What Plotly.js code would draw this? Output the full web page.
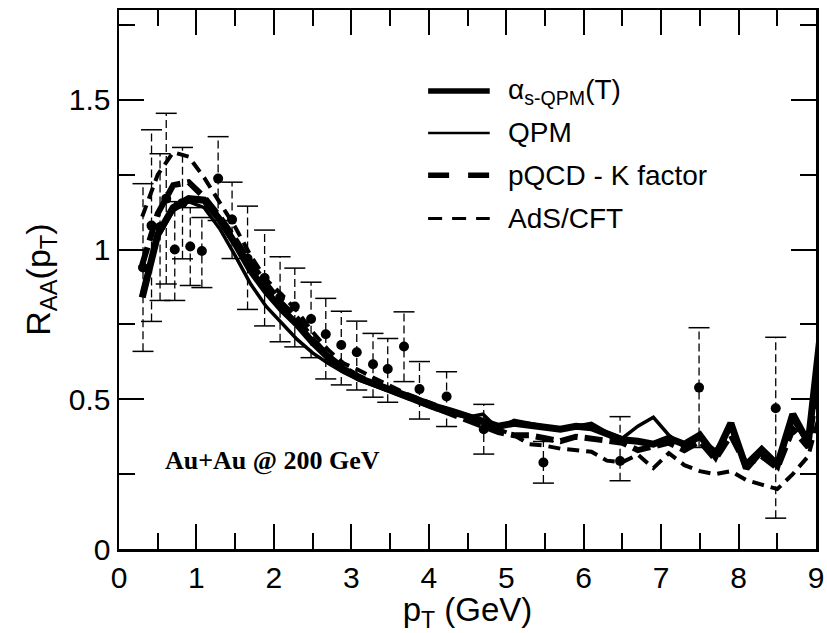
<!DOCTYPE html>
<html>
<head>
<meta charset="utf-8">
<script src="https://cdn.plot.ly/plotly-3.0.1.min.js"></script>
<style>
  html, body { margin: 0; padding: 0; background: #ffffff; }
  #chart { width: 827px; height: 633px; }
</style>
</head>
<body>
<div id="chart"></div>
<script>
// ---------- data ----------
// experimental points: pT (GeV), R_AA, upper / lower error
const ptData  = [0.31, 0.42, 0.53, 0.61, 0.72, 0.82, 0.92, 1.07, 1.28, 1.46, 1.66, 1.88, 2.08, 2.27,
                 2.48, 2.67, 2.87, 3.07, 3.28, 3.47, 3.68, 3.88, 4.23, 4.71, 5.48, 6.47, 7.49, 8.48];
const raaData = [0.94, 1.08, 1.075, 1.17, 1.00, 1.155, 1.01, 0.995, 1.237, 1.10, 0.97, 0.905, 0.84, 0.81,
                 0.768, 0.717, 0.681, 0.657, 0.617, 0.601, 0.676, 0.534, 0.509, 0.40, 0.289, 0.294, 0.539, 0.47];
const errHi   = [0.28, 0.32, 0.245, 0.285, 0.16, 0.186, 0.13, 0.112, 0.14, 0.125, 0.175, 0.16, 0.136, 0.128,
                 0.123, 0.12, 0.113, 0.104, 0.103, 0.102, 0.116, 0.092, 0.083, 0.083, 0.07, 0.148, 0.20, 0.237];
const errLo   = [0.28, 0.32, 0.245, 0.285, 0.17, 0.186, 0.13, 0.122, 0.14, 0.13, 0.17, 0.16, 0.148, 0.135,
                 0.129, 0.149, 0.133, 0.126, 0.11, 0.111, 0.117, 0.10, 0.10, 0.083, 0.069, 0.066, 0.20, 0.367];

// model curves, all on the same pT grid
const ptCurve = [0.3, 0.5, 0.7, 0.9, 1.1, 1.3, 1.5, 1.7, 1.9, 2.1, 2.3, 2.5, 2.7, 2.9, 3.1, 3.3, 3.5,
                 3.7, 3.9, 4.1, 4.3, 4.5, 4.7, 4.9, 5.1, 5.3, 5.5, 5.7, 5.9, 6.1, 6.3, 6.5, 6.7, 6.9,
                 7.1, 7.3, 7.5, 7.7, 7.9, 8.1, 8.3, 8.5, 8.7, 8.9, 9.1];
const raaAlphaQPM = [0.84, 1.05, 1.14, 1.17, 1.165, 1.10, 1.02, 0.93, 0.86, 0.80, 0.75, 0.69, 0.64, 0.60, 0.57,
                     0.55, 0.53, 0.51, 0.49, 0.475, 0.46, 0.445, 0.43, 0.41, 0.42, 0.415, 0.41, 0.40, 0.41,
                     0.405, 0.385, 0.365, 0.36, 0.35, 0.37, 0.35, 0.38, 0.31, 0.42, 0.27, 0.33, 0.28, 0.45,
                     0.355, 0.82];
const raaQPM      = [0.86, 1.04, 1.13, 1.16, 1.14, 1.07, 0.98, 0.885, 0.81, 0.755, 0.70, 0.655, 0.62, 0.59,
                     0.565, 0.545, 0.525, 0.505, 0.485, 0.465, 0.45, 0.44, 0.45, 0.40, 0.43, 0.42, 0.41, 0.40,
                     0.41, 0.42, 0.39, 0.37, 0.41, 0.44, 0.38, 0.34, 0.37, 0.33, 0.40, 0.29, 0.34, 0.29, 0.43,
                     0.35, 0.75];
const raaPQCD     = [0.95, 1.12, 1.215, 1.225, 1.175, 1.11, 1.035, 0.955, 0.885, 0.82, 0.77, 0.70, 0.645, 0.605,
                     0.575, 0.55, 0.53, 0.51, 0.49, 0.47, 0.455, 0.435, 0.415, 0.39, 0.38, 0.38, 0.37, 0.36,
                     0.375, 0.37, 0.36, 0.355, 0.33, 0.34, 0.355, 0.33, 0.36, 0.30, 0.38, 0.28, 0.31, 0.27,
                     0.40, 0.34, 0.70];
const raaAdS      = [1.11, 1.25, 1.325, 1.31, 1.24, 1.16, 1.075, 0.98, 0.90, 0.85, 0.795, 0.725, 0.665, 0.62,
                     0.597, 0.57, 0.545, 0.52, 0.50, 0.48, 0.46, 0.44, 0.42, 0.40, 0.38, 0.35, 0.345, 0.335,
                     0.33, 0.325, 0.295, 0.29, 0.315, 0.27, 0.32, 0.28, 0.26, 0.25, 0.26, 0.23, 0.215, 0.20,
                     0.25, 0.31, 0.50];

const seriesNames = ['α<sub>s-QPM</sub>(T)', 'QPM', 'pQCD - K factor', 'AdS/CFT'];
const annotationText = 'Au+Au @ 200 GeV';

// ---------- build traces ----------
const barX = [], barY = [];
ptData.forEach((x, i) => {
  barX.push(x, x, null);
  barY.push(raaData[i] - errLo[i], raaData[i] + errHi[i], null);
});
const capX = ptData.concat(ptData);
const capY = raaData.map((v, i) => v + errHi[i]).concat(raaData.map((v, i) => v - errLo[i]));

const traces = [
  { x: barX, y: barY, mode: 'lines', type: 'scatter', showlegend: false, hoverinfo: 'skip',
    line: { color: '#000', width: 1.3, dash: '8px,4px' } },
  { x: capX, y: capY, mode: 'markers', type: 'scatter', showlegend: false, hoverinfo: 'skip',
    marker: { symbol: 'line-ew', size: 15, line: { color: '#000', width: 1.5 } } },
  { x: ptData, y: raaData, mode: 'markers', type: 'scatter', name: 'data', showlegend: false,
    marker: { symbol: 'circle', size: 10, color: '#000' } },
  { x: ptCurve, y: raaAdS, mode: 'lines', type: 'scatter', name: seriesNames[3],
    line: { color: '#000', width: 4, dash: '12px,7px' } },
  { x: ptCurve, y: raaPQCD, mode: 'lines', type: 'scatter', name: seriesNames[2],
    line: { color: '#000', width: 6, dash: '18px,7px' } },
  { x: ptCurve, y: raaQPM, mode: 'lines', type: 'scatter', name: seriesNames[1],
    line: { color: '#000', width: 3.5 } },
  { x: ptCurve, y: raaAlphaQPM, mode: 'lines', type: 'scatter', name: seriesNames[0],
    line: { color: '#000', width: 7 } }
];

// ---------- custom legend (lines + text) ----------
const legendStyles = [
  { width: 5.5, dash: 'solid' },
  { width: 2.5, dash: 'solid' },
  { width: 5.5, dash: '21px,19px' },
  { width: 3, dash: '14px,10px' }
];
const legendY = [0.8496, 0.7719, 0.6935, 0.6133];
const shapes = [], annotations = [];
seriesNames.forEach((n, i) => {
  shapes.push({ type: 'line', xref: 'paper', yref: 'paper', x0: 0.4435, x1: 0.5319,
                y0: legendY[i], y1: legendY[i],
                line: { color: '#000', width: legendStyles[i].width, dash: legendStyles[i].dash } });
  annotations.push({ xref: 'paper', yref: 'paper', x: 0.5548, y: legendY[i], xanchor: 'left', yanchor: 'middle',
                     text: n, showarrow: false,
                     font: { family: 'Liberation Sans, Arial, sans-serif', size: 28, color: '#000' } });
});
annotations.push({ xref: 'paper', yref: 'paper', x: 0.0631, y: 0.164, xanchor: 'left', yanchor: 'middle',
                   text: '<b>' + annotationText + '</b>', showarrow: false,
                   font: { family: 'Liberation Serif, Times New Roman, serif', size: 26, color: '#000' } });

const axisFont = { family: 'Liberation Sans, Arial, sans-serif', size: 30, color: '#000' };
const layout = {
  width: 827, height: 633,
  margin: { l: 119, r: 10.5, t: 9.5, b: 83.5, pad: 0 },
  paper_bgcolor: '#fff', plot_bgcolor: '#fff',
  showlegend: false,
  xaxis: {
    range: [0, 9], tick0: 0, dtick: 1, ticks: 'inside', ticklen: 25, tickwidth: 2, tickcolor: '#000',
    showline: true, linewidth: 2.5, linecolor: '#000', mirror: 'ticks',
    showgrid: false, zeroline: false, tickfont: axisFont,
    minor: { dtick: 0.5, ticks: 'inside', ticklen: 16, tickwidth: 2, tickcolor: '#000', showgrid: false },
    title: { text: 'p<sub>T</sub> (GeV)', font: { family: 'Liberation Sans, Arial, sans-serif', size: 33, color: '#000' }, standoff: 4 },
    automargin: false
  },
  yaxis: {
    range: [0, 1.8], tick0: 0, dtick: 0.5, ticks: 'inside', ticklen: 25, tickwidth: 2, tickcolor: '#000',
    showline: true, linewidth: 2.5, linecolor: '#000', mirror: 'ticks',
    showgrid: false, zeroline: false, tickfont: axisFont,
    minor: { dtick: 0.25, ticks: 'inside', ticklen: 16, tickwidth: 2, tickcolor: '#000', showgrid: false },
    title: { text: 'R<sub>AA</sub>(p<sub>T</sub>)', font: { family: 'Liberation Sans, Arial, sans-serif', size: 34, color: '#000' }, standoff: 8 },
    automargin: false
  },
  shapes: shapes,
  annotations: annotations
};

Plotly.newPlot('chart', traces, layout, { displayModeBar: false, staticPlot: true });
</script>
</body>
</html>
